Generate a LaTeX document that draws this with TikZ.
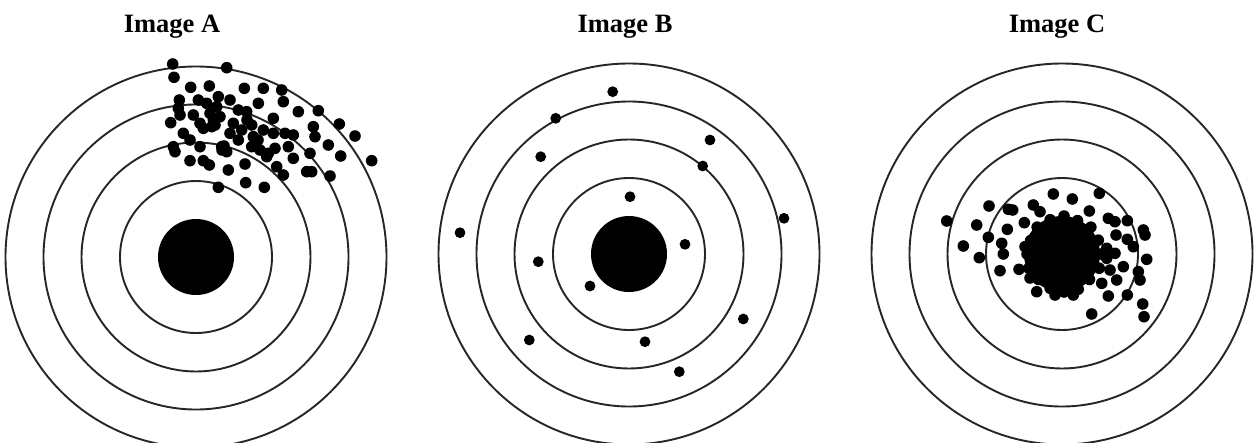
\documentclass[tikz,border=0pt]{standalone}
\usepackage{fontspec}
\setmainfont{Liberation Serif}
\begin{document}
\begin{tikzpicture}[x=1pt,y=-1pt,
  ring/.style={draw=black!85,line width=1.9pt},
  title/.style={font=\bfseries\fontsize{26.5}{30}\selectfont,anchor=base,inner sep=0pt},
  hit/.style={fill=black}]
\useasboundingbox (0,0) rectangle (1255,442);
\fill[white] (0,0) rectangle (1255,442);
% targets
\foreach \cx/\cy in {196/257, 629/254, 1062/254}{
  \foreach \r in {76,114.5,152.5,190.5} \draw[ring] (\cx,\cy) circle[radius=\r];
  \fill[hit] (\cx,\cy) circle[radius=38];
}
% titles
\node[title] (tA) at (172,32) {Image A};
\node[title] (tB) at (625,32) {Image B};
\node[title] (tC) at (1057,32) {Image C};
% Image A hits
\foreach \x/\y in {172.7/64, 174/77.3, 226.7/67.7, 190.7/87.3, 209.3/86, 244.3/88.3, 263.3/88.3,
  281.7/90, 283.3/101.7, 179.3/100, 178.3/108.3, 198.3/100, 218.3/96.7, 230/100, 216.7/106.7,
  206.7/103.3, 258.3/103.3, 193.3/115, 210/113.3, 220/116.7, 238.3/110, 246.7/111.7, 298.3/111.7,
  318.3/110.7, 170.7/122.7, 203.3/128.3, 211.7/126.7, 233.3/123.3, 241.7/130, 251.7/125,
  273.3/118.3, 263.3/130, 273.3/133.3, 285/133.3, 293.3/135, 313.3/126.7, 315/136.7, 339.3/124,
  355/136, 183.3/133.3, 190/140, 173.3/146.7, 175/151.7, 200/146.7, 221.7/146.7, 226.7/151.7,
  238.3/140, 251.7/146.7, 260/150, 268.3/153.3, 275/148.3, 288.3/146.7, 293.3/158.3, 310/153.3,
  328.3/145, 340.7/156, 371.7/160.7, 190/160.7, 203.3/160.7, 209.3/165, 228.3/170, 245/164,
  266.7/156.7, 276.7/166.7, 283.3/175, 306.7/171.7, 311.7/171.7, 330/176, 218.3/187.3,
  245.7/182.7, 264.3/187.3, 253.3/136.7, 200/123.3, 230/133.3, 213.3/120, 224/146, 222/150,
  180/115, 215/125, 247/120, 258/140}
  \fill[hit] (\x,\y) circle[radius=5.8];
% Image B hits
\foreach \x/\y in {612.7/91.7, 555.7/118.3, 710/140, 540.7/156.7, 702.7/166, 630/196.7,
  784/218.3, 460/232.7, 685/244.3, 538.3/261.7, 590/286, 743.3/319, 529.3/340, 645/341.7,
  679.3/371.7}
  \fill[hit] (\x,\y) circle[radius=5.4];
% Image C hits
\foreach \x/\y in {1053.3/194, 1072.3/199, 1099.3/193.3, 989/206, 1008.3/209.3, 1012.7/210,
  1033.3/205, 1040/211.7, 1089.3/211, 946.7/221, 976.7/225, 1007.3/229.3, 1024.3/222.7,
  1108.3/218.3, 1115/221.7, 1127.3/220.7, 1143.3/230, 1145/235, 1116/235, 1127.3/239.3,
  1133.3/246.7, 988.3/237.3, 1001.7/243.3, 963.3/246, 1003.3/254, 979.3/257.7, 1106.7/248.3,
  1115/253.3, 1146.7/259.3, 1106.7/258.3, 1123.3/266.7, 1110/270, 1000/270.7, 1019/269.3,
  1138.3/271.7, 1140/280, 1116.7/280, 1101.7/283.3, 1036.7/291.7, 1055/295, 1073.3/295,
  1108.3/296, 1127.3/295, 1142.7/304, 1144/316.7, 1091.7/314, 1025/246.7, 1030/278}
  \fill[hit] (\x,\y) circle[radius=5.8];
% Image C central cluster bumps
\foreach \a/\d in {0/37, 22/38, 45/36, 68/38, 90/38, 112/37, 135/36, 158/38, 180/37,
  202/36, 225/38, 248/37, 270/38, 292/36, 315/38, 338/37}
  \fill[hit] ({1064+\d*cos(\a)},{254+\d*sin(\a)}) circle[radius=5.8];
\end{tikzpicture}
\end{document}
